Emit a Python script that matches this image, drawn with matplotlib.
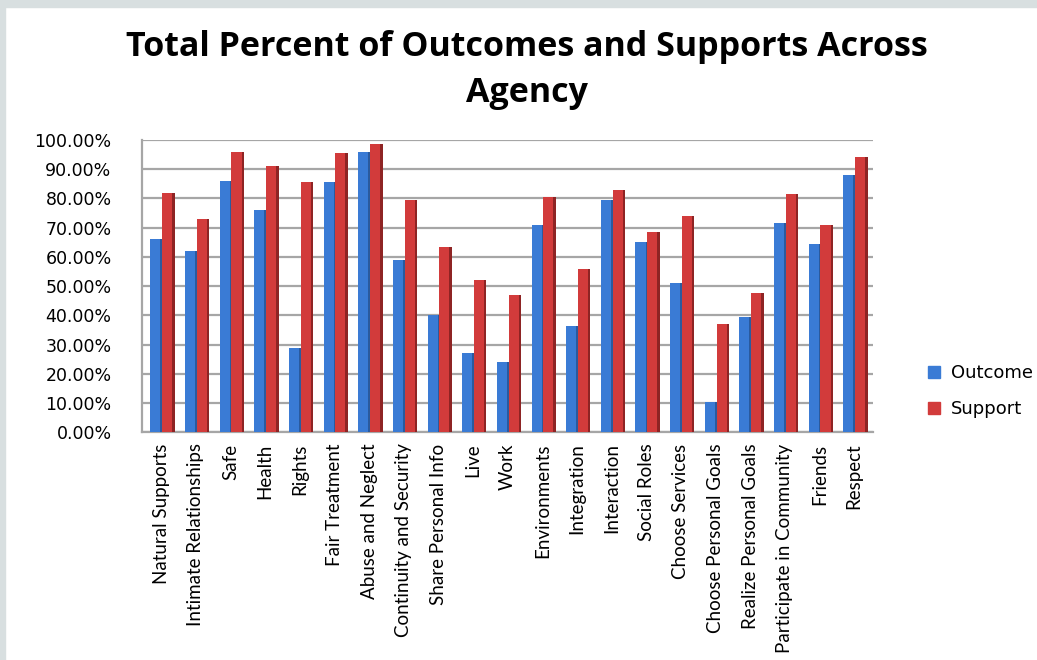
import numpy as np
import matplotlib
matplotlib.use("Agg")
import matplotlib.pyplot as plt
from matplotlib.ticker import FuncFormatter
from matplotlib.patches import Patch

categories = ["Natural Supports", "Intimate Relationships", "Safe", "Health", "Rights",
              "Fair Treatment", "Abuse and Neglect", "Continuity and Security",
              "Share Personal Info", "Live", "Work", "Environments", "Integration",
              "Interaction", "Social Roles", "Choose Services", "Choose Personal Goals",
              "Realize Personal Goals", "Participate in Community", "Friends", "Respect"]
outcome = [66, 62, 86, 76, 29, 85.5, 96, 59, 40, 27, 24, 71, 36.5, 79.5, 65, 51, 10.5,
           39.5, 71.5, 64.5, 88]
support = [82, 73, 96, 91, 85.5, 95.5, 98.5, 79.5, 63.5, 52, 47, 80.5, 56, 83, 68.5, 74,
           37, 47.5, 81.5, 71, 94]

fig = plt.figure(figsize=(10.37, 6.6), dpi=100)
fig.patch.set_facecolor("white")

# grey frame like the original screenshot
fig.patches.append(plt.Rectangle((0, 0.989), 1, 0.011, transform=fig.transFigure,
                                 color="#d8dfe0", zorder=0))
fig.patches.append(plt.Rectangle((0, 0), 0.005, 1, transform=fig.transFigure,
                                 color="#d8dfe0", zorder=0))

ax = fig.add_axes([0.137, 0.345, 0.705, 0.443])

x = np.arange(len(categories))
w = 0.29
side = 0.07
ax.bar(x - w / 2 - 0.02, outcome, w, color="#3a7bd5", zorder=3)
ax.bar(x - 0.02 + side / 2, outcome, side, color="#2a5a9e", zorder=3)
ax.bar(x + w / 2 + 0.03, support, w, color="#d23b3b", zorder=3)
ax.bar(x + w + 0.03 + side / 2, support, side, color="#8e2424", zorder=3)

ax.set_xlim(-0.55, len(categories) - 0.45)
ax.set_ylim(0, 100)
ax.set_yticks(np.arange(0, 101, 10))
ax.yaxis.set_major_formatter(FuncFormatter(lambda v, p: "%.2f%%" % v))
ax.grid(axis="y", color="#a6a6a6", linewidth=1.6, zorder=0)
ax.set_axisbelow(True)
for s in ["top", "right"]:
    ax.spines[s].set_visible(False)
for s in ["left", "bottom"]:
    ax.spines[s].set_color("#a6a6a6")
    ax.spines[s].set_linewidth(1.6)
ax.tick_params(axis="y", length=0, pad=22, labelsize=12.5)
ax.tick_params(axis="x", length=0, pad=8)
ax.set_xticks(x)
ax.set_xticklabels(categories, rotation=90, fontsize=13.5, family="Lato")
for lab in ax.get_yticklabels():
    lab.set_family("DejaVu Sans")

fig.text(0.508, 0.894, "Total Percent of Outcomes and Supports Across\nAgency",
         ha="center", va="center", fontsize=24.5, fontweight="bold",
         family="Open Sans", linespacing=1.45)

handles = [Patch(color="#3a7bd5", label="Outcome"), Patch(color="#d23b3b", label="Support")]
fig.legend(handles=handles, loc="center left", bbox_to_anchor=(0.879, 0.407),
           frameon=False, fontsize=13, handlelength=0.7, handleheight=0.7,
           labelspacing=1.0, handletextpad=0.6)

fig.savefig("out.png", dpi=100)
